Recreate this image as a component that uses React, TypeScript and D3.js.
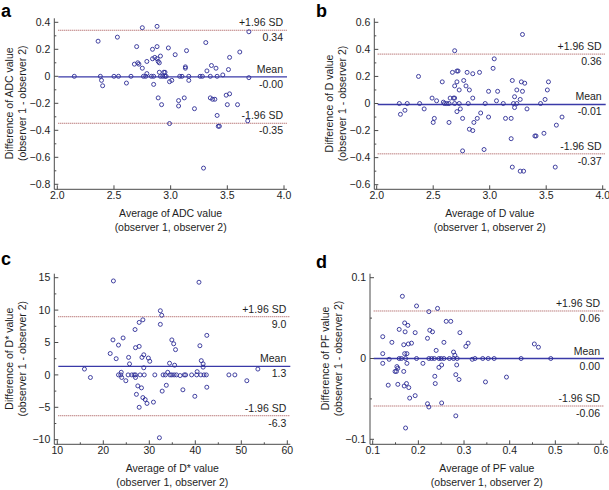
import React from "react";
import * as d3 from "d3";

// ---------- DATA ----------
const adcPoints: [number, number][] = [
  [2.15, 0], [2.36, 0.26], [2.38, 0], [2.39, -0.03], [2.4, -0.07], [2.53, 0.29], [2.5, 0], [2.54, 0],
  [2.61, -0.05], [2.65, 0], [2.68, 0.09], [2.7, 0.22], [2.71, 0.1], [2.72, 0.09], [2.75, 0.06], [2.75, 0.36],
  [2.76, 0], [2.78, 0], [2.79, 0.11], [2.79, 0.02], [2.83, 0], [2.84, 0.2], [2.84, 0.13], [2.85, 0],
  [2.85, -0.06], [2.86, 0.14], [2.88, 0.37], [2.88, 0.22], [2.88, 0.13], [2.89, 0.11], [2.89, -0.16],
  [2.9, 0.03], [2.9, 0.1], [2.91, 0.15], [2.91, 0], [2.92, -0.21], [2.93, 0], [2.94, 0.03], [2.95, 0.03],
  [2.95, 0], [2.96, 0], [2.98, 0.21], [2.99, -0.04], [2.99, -0.35], [3.01, -0.03], [3.04, 0.16],
  [3.07, -0.18], [3.07, -0.22], [3.08, 0], [3.1, 0], [3.12, -0.16], [3.13, 0.07], [3.13, 0.06],
  [3.14, 0.19], [3.16, 0], [3.16, -0.03], [3.21, -0.24], [3.26, 0], [3.28, 0], [3.29, -0.68],
  [3.31, 0.25], [3.32, 0.04], [3.35, -0.16], [3.35, 0], [3.36, 0.08], [3.37, -0.17], [3.39, -0.17],
  [3.4, 0.06], [3.41, 0], [3.41, -0.29], [3.42, -0.37], [3.43, -0.37], [3.46, 0.01], [3.49, -0.14],
  [3.5, -0.21], [3.51, 0.05], [3.52, 0.14], [3.52, -0.13], [3.59, -0.21], [3.61, 0.18], [3.68, -0.33],
  [3.69, -0.01], [3.69, 0.33],
];

const dPoints: [number, number][] = [
  [2.2, 0], [2.21, -0.08], [2.25, -0.05], [2.27, 0], [2.37, 0.2], [2.38, 0], [2.42, -0.04], [2.49, 0.04],
  [2.51, -0.11], [2.5, -0.14], [2.53, 0.02], [2.58, 0.16], [2.59, 0.01], [2.6, 0], [2.62, 0], [2.64, -0.14],
  [2.64, 0], [2.65, 0.04], [2.67, 0.23], [2.68, 0.04], [2.69, 0.04], [2.69, 0.13], [2.69, 0], [2.69, 0.39],
  [2.71, 0.24], [2.71, -0.06], [2.71, 0.16], [2.72, 0.24], [2.73, 0.1], [2.73, 0], [2.74, -0.04],
  [2.76, -0.35], [2.76, -0.11], [2.77, 0.17], [2.79, 0.13], [2.8, 0.23], [2.81, 0], [2.82, 0.1],
  [2.82, -0.19], [2.85, -0.2], [2.85, 0.04], [2.85, 0.22], [2.86, -0.14], [2.89, -0.11], [2.91, 0.23],
  [2.92, -0.07], [2.95, -0.34], [2.96, 0], [2.99, -0.1], [2.99, 0.09], [3.03, 0.26], [3.04, 0.33],
  [3.06, 0.02], [3.07, 0.09], [3.12, 0], [3.14, -0.11], [3.19, -0.26], [3.19, -0.11], [3.2, 0.17],
  [3.2, -0.47], [3.21, 0], [3.22, 0.05], [3.22, -0.03], [3.24, 0.1], [3.24, 0], [3.27, 0.03], [3.27, -0.5],
  [3.28, 0.16], [3.29, 0.51], [3.29, 0.09], [3.3, -0.5], [3.31, 0.15], [3.33, -0.04], [3.45, 0],
  [3.4, -0.24], [3.41, -0.24], [3.48, -0.22], [3.49, 0.03], [3.51, 0.1], [3.52, 0.16], [3.58, -0.47],
  [3.59, -0.16], [3.64, -0.1],
];

const dStarPoints: [number, number][] = [
  [15.9, 0.9], [17.2, -0.4], [21.5, 3.3], [22.2, 14.5], [22.1, 5.4], [22.8, 2.5], [23.3, 4.6], [23.3, 0],
  [23.8, 0], [23.9, 0.4], [24.0, -0.4], [24.3, 5.7], [24.9, -0.9], [25.4, 0], [25.5, 2.7], [25.7, 1.7],
  [26.2, 0], [26.7, 0], [26.9, 7.0], [27.0, 4.2], [27.0, -0.4], [27.0, 0], [27.2, -3.0], [27.5, -1.7],
  [27.8, 8.1], [27.8, 4.4], [27.8, -5.0], [28.0, 0], [28.3, -2.0], [28.6, 8.5], [28.4, 2.7], [28.6, -3.5],
  [28.8, 3.1], [28.8, 1.1], [28.9, 0], [29.1, -3.8], [29.5, -4.4], [29.8, 2.6], [30.1, 2.1], [30.9, -4.2],
  [31.2, 0], [32.2, -9.7], [32.4, 7.8], [32.4, 9.9], [32.7, 9.2], [32.8, -2.5], [33.0, 0], [33.5, 0],
  [33.7, -1.6], [34.0, 0.4], [34.4, 1.8], [34.5, 0], [34.9, 5.4], [34.9, 0], [35.3, 4.8], [35.4, 0],
  [35.5, 1.5], [35.7, 3.9], [35.9, 0], [36.7, -0.1], [37.3, -2.3], [37.6, 0], [37.9, 0], [39.2, 0],
  [39.9, -3.3], [40.3, 0], [40.4, 0.5], [40.8, 14.3], [41.0, 4.5], [41.2, 0], [41.3, 2.2], [41.7, 1.7],
  [41.7, 1.2], [41.9, 0], [42.5, 6.1], [42.4, 0], [42.5, -1.9], [47.3, 0], [48.6, 0], [51.2, -0.9],
  [53.6, 0.9],
];

const pfPoints: [number, number][] = [
  [0.122, 0.027], [0.122, 0.006], [0.122, -0.006], [0.134, -0.033], [0.136, -0.001], [0.142, 0.02],
  [0.149, -0.016], [0.153, -0.01], [0.152, -0.016], [0.155, -0.012], [0.155, -0.032], [0.158, 0.036],
  [0.158, 0], [0.163, 0], [0.165, 0.077], [0.168, -0.016], [0.168, 0.017], [0.169, -0.034], [0.17, 0.044],
  [0.171, 0.033], [0.17, 0.006], [0.172, 0], [0.172, -0.086], [0.174, -0.031], [0.175, 0.006],
  [0.175, -0.006], [0.177, 0.041], [0.178, 0.018], [0.179, -0.036], [0.181, -0.049], [0.185, 0.019],
  [0.193, 0.032], [0.193, -0.046], [0.196, 0.065], [0.196, 0], [0.21, -0.006], [0.22, 0.025],
  [0.22, -0.056], [0.223, 0.058], [0.223, 0], [0.223, -0.06], [0.225, 0.035], [0.229, 0], [0.231, 0.033],
  [0.235, 0], [0.236, -0.022], [0.237, -0.031], [0.239, 0.01], [0.242, 0.062], [0.245, 0], [0.245, -0.011],
  [0.25, 0], [0.251, -0.055], [0.251, -0.008], [0.256, 0], [0.256, 0.02], [0.261, 0.046], [0.268, 0],
  [0.271, 0.046], [0.277, 0], [0.277, 0.008], [0.28, 0.004], [0.282, -0.02], [0.282, -0.071],
  [0.284, -0.008], [0.285, 0], [0.289, -0.026], [0.291, 0.032], [0.304, 0.015], [0.309, 0.019],
  [0.318, -0.001], [0.324, 0], [0.341, 0], [0.347, -0.029], [0.353, 0], [0.366, 0], [0.393, -0.023],
  [0.425, 0], [0.454, 0.018], [0.463, 0.014], [0.49, 0],
];

// statistics: mean, +1.96 SD, -1.96 SD and their printed labels
const adcStats = [-0.004, 0.341, -0.348];
const adcStatLabels = ["-0.00", "0.34", "-0.35"];
const dStats = [-0.007, 0.365, -0.372];
const dStatLabels = ["-0.01", "0.36", "-0.37"];
const dStarStats = [1.32, 8.98, -6.3];
const dStarStatLabels = ["1.3", "9.0", "-6.3"];
const pfStats = [0.0, 0.0588, -0.0588];
const pfStatLabels = ["0.00", "0.06", "-0.06"];

// ticks
const adcXTicks = [2.0, 2.5, 3.0, 3.5, 4.0];
const adcYTicks = [0.4, 0.2, 0, -0.2, -0.4, -0.6, -0.8];
const adcYMinor = [0.3, 0.1, -0.1, -0.3, -0.5, -0.7];
const dXTicks = [2.0, 2.5, 3.0, 3.5, 4.0];
const dYTicks = [0.6, 0.4, 0.2, 0, -0.2, -0.4, -0.6];
const dYMinor = [0.5, 0.3, 0.1, -0.1, -0.3, -0.5];
const dStarXTicks = [10, 20, 30, 40, 50, 60];
const dStarXMinor = [15, 25, 35, 45, 55];
const dStarYTicks = [15, 10, 5, 0, -5, -10];
const dStarYMinor = [12.5, 7.5, 2.5, -2.5, -7.5];
const pfXTicks = [0.1, 0.2, 0.3, 0.4, 0.5, 0.6];
const pfXMinor = [0.15, 0.25, 0.35, 0.45, 0.55];
const pfYTicks = [0.1, 0, -0.1];
const pfYMinor = [0.05, -0.05];

// ---------- LAYOUT ----------
interface PanelCfg {
  letter: string;
  letterX: number;
  letterY: number;
  points: [number, number][];
  stats: number[];
  statLabels: string[];
  xDom: [number, number];
  xRange: [number, number];
  yDom: [number, number];
  yRange: [number, number];
  axisX: number;
  axisY: number;
  xTicks: number[];
  xMinor: number[];
  yTicks: number[];
  yMinor: number[];
  xFmt: (v: number) => string;
  yFmt: (v: number) => string;
  name: string;
}

const f1 = d3.format(".1f");
const yFmtDec = (v: number) => (v === 0 ? "0" : f1(v));
const intFmt = d3.format("d");

const panels: PanelCfg[] = [
  {
    letter: "a", letterX: 1, letterY: 17, points: adcPoints, stats: adcStats, statLabels: adcStatLabels,
    xDom: [2, 4], xRange: [57.3, 284], yDom: [-0.8, 0.4], yRange: [184.3, 22.3], axisX: 54.3, axisY: 189.3,
    xTicks: adcXTicks, xMinor: [], yTicks: adcYTicks, yMinor: adcYMinor, xFmt: f1, yFmt: yFmtDec, name: "ADC",
  },
  {
    letter: "b", letterX: 316, letterY: 17, points: dPoints, stats: dStats, statLabels: dStatLabels,
    xDom: [2, 4], xRange: [376.7, 602.7], yDom: [-0.6, 0.6], yRange: [184.7, 22.3], axisX: 374.3, axisY: 189.3,
    xTicks: dXTicks, xMinor: [], yTicks: dYTicks, yMinor: dYMinor, xFmt: f1, yFmt: yFmtDec, name: "D",
  },
  {
    letter: "c", letterX: 1, letterY: 265, points: dStarPoints, stats: dStarStats, statLabels: dStarStatLabels,
    xDom: [10, 60], xRange: [57.3, 287.3], yDom: [-10, 15], yRange: [439.7, 277.7], axisX: 54.3, axisY: 444.3,
    xTicks: dStarXTicks, xMinor: dStarXMinor, yTicks: dStarYTicks, yMinor: dStarYMinor, xFmt: intFmt,
    yFmt: intFmt, name: "D*",
  },
  {
    letter: "d", letterX: 316, letterY: 268, points: pfPoints, stats: pfStats, statLabels: pfStatLabels,
    xDom: [0.1, 0.6], xRange: [372.7, 601], yDom: [-0.1, 0.1], yRange: [439.3, 277.7], axisX: 370, axisY: 444.3,
    xTicks: pfXTicks, xMinor: pfXMinor, yTicks: pfYTicks, yMinor: pfYMinor, xFmt: f1, yFmt: yFmtDec, name: "PF",
  },
];

const FONT = "'Liberation Sans', Arial, sans-serif";
const FS = 10.5;
const AXIS = "#4a4a4a";
const TEXT = "#1e1e1e";
const BLUE = "#3a3aa8";
const RED = "#a04848";
const PT = "#2e2e96";

function Panel({ p }: { p: PanelCfg }) {
  const x = d3.scaleLinear().domain(p.xDom).range(p.xRange);
  const y = d3.scaleLinear().domain(p.yDom).range(p.yRange);
  const top = p.yRange[1] - 4;
  const right = p.xRange[1] + 3;
  const lineX0 = p.xRange[0] + 1;
  const labelRight = p.xRange[1] - 1;
  const [mean, up, lo] = p.stats;
  const [meanL, upL, loL] = p.statLabels;
  const xc = (p.xRange[0] + p.xRange[1]) / 2;
  const yc = (p.yRange[0] + p.yRange[1]) / 2;
  return (
    <g fontFamily={FONT} fontSize={FS} fill={TEXT}>
      <text x={p.letterX} y={p.letterY} fontSize={18} fontWeight="bold" fill="#000">
        {p.letter}
      </text>
      {/* reference lines */}
      <line x1={lineX0} x2={right} y1={y(up)} y2={y(up)} stroke={RED} strokeWidth={1} strokeDasharray="1,1" />
      <line x1={lineX0} x2={right} y1={y(lo)} y2={y(lo)} stroke={RED} strokeWidth={1} strokeDasharray="1,1" />
      <line x1={lineX0} x2={right} y1={y(mean)} y2={y(mean)} stroke={BLUE} strokeWidth={1.4} />
      {/* stat labels */}
      <text x={labelRight} y={y(up) - 4} textAnchor="end">+1.96 SD</text>
      <text x={labelRight} y={y(up) + 11} textAnchor="end">{upL}</text>
      <text x={labelRight} y={y(mean) - 4} textAnchor="end">Mean</text>
      <text x={labelRight} y={y(mean) + 11} textAnchor="end">{meanL}</text>
      <text x={labelRight} y={y(lo) - 4} textAnchor="end">-1.96 SD</text>
      <text x={labelRight} y={y(lo) + 11} textAnchor="end">{loL}</text>
      {/* points */}
      {p.points.map((d, i) => (
        <circle key={i} cx={x(d[0])} cy={y(d[1])} r={2} fill="none" stroke={PT} strokeWidth={0.9} />
      ))}
      {/* axes */}
      <line x1={p.axisX} x2={p.axisX} y1={top} y2={p.axisY} stroke={AXIS} strokeWidth={1} />
      <line x1={p.axisX} x2={right} y1={p.axisY} y2={p.axisY} stroke={AXIS} strokeWidth={1} />
      {p.yTicks.map((t) => (
        <g key={"y" + t}>
          <line x1={p.axisX} x2={p.axisX + 4} y1={y(t)} y2={y(t)} stroke={AXIS} />
          <text x={p.axisX - 4} y={y(t)} dy="0.35em" textAnchor="end">{p.yFmt(t)}</text>
        </g>
      ))}
      {p.yMinor.map((t) => (
        <line key={"ym" + t} x1={p.axisX} x2={p.axisX + 2} y1={y(t)} y2={y(t)} stroke={AXIS} />
      ))}
      {p.xTicks.map((t) => (
        <g key={"x" + t}>
          <line x1={x(t)} x2={x(t)} y1={p.axisY} y2={p.axisY - 4} stroke={AXIS} />
          <text x={x(t)} y={p.axisY + 10} textAnchor="middle">{p.xFmt(t)}</text>
        </g>
      ))}
      {p.xMinor.map((t) => (
        <line key={"xm" + t} x1={x(t)} x2={x(t)} y1={p.axisY} y2={p.axisY - 2} stroke={AXIS} />
      ))}
      {/* axis titles */}
      <text x={xc} y={p.axisY + 28} textAnchor="middle">{`Average of ${p.name} value`}</text>
      <text x={xc} y={p.axisY + 42} textAnchor="middle">(observer 1, observer 2)</text>
      <g transform={`translate(${p.axisX - 41},${yc}) rotate(-90)`}>
        <text x={0} y={0} textAnchor="middle">{`Difference of ${p.name} value`}</text>
        <text x={0} y={13} textAnchor="middle">(observer 1 - observer 2)</text>
      </g>
    </g>
  );
}

export default function App() {
  return (
    <svg
      width={609}
      height={490}
      style={{ position: "absolute", left: 0, top: 0, background: "#fff" }}
    >
      <rect width={609} height={490} fill="#fff" />
      {panels.map((p) => (
        <Panel key={p.letter} p={p} />
      ))}
    </svg>
  );
}
